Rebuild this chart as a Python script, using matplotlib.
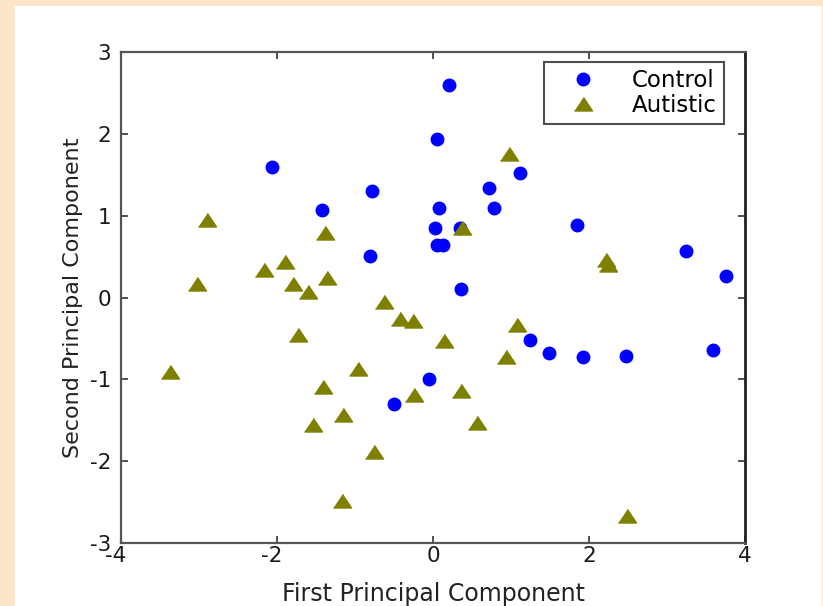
import matplotlib
matplotlib.use("Agg")
import matplotlib.pyplot as plt
from matplotlib.patches import Rectangle
from matplotlib.transforms import ScaledTranslation

plt.rcParams['font.family'] = ['DejaVu Sans']

control_x = [-2.07, 0.20, 0.05, -0.78, -1.42, 0.08, 0.72, 1.12, 0.78, 0.03, 0.05, 0.13,
             0.34, -0.81, 0.36, 1.85, 3.24, 3.76, 1.24, 1.49, 1.92, 2.47, 3.59, -0.05, -0.50]
control_y = [1.60, 2.60, 1.94, 1.30, 1.07, 1.09, 1.34, 1.52, 1.09, 0.85, 0.64, 0.64,
             0.85, 0.51, 0.10, 0.88, 0.57, 0.26, -0.52, -0.68, -0.73, -0.72, -0.64, -0.99, -1.30]

autistic_x = [-2.90, -3.03, -3.37, -2.17, -1.90, -1.80, -1.60, -1.73, -1.39, -1.36, -0.63, -0.42,
              -0.26, -0.96, -1.41, -1.54, -1.15, -0.76, -1.17, -0.25, 0.14, 0.37, 0.97, 1.08,
              0.93, 0.36, 0.57, 2.22, 2.24, 2.49]
autistic_y = [0.95, 0.17, -0.91, 0.33, 0.43, 0.17, 0.07, -0.46, 0.79, 0.24, -0.05, -0.26,
              -0.29, -0.87, -1.09, -1.56, -1.44, -1.89, -2.49, -1.19, -0.53, 0.85, 1.75, -0.33,
              -0.73, -1.14, -1.53, 0.46, 0.40, -2.67]

xticks = [-4, -2, 0, 2, 4]
yticks = [-3, -2, -1, 0, 1, 2, 3]

fig = plt.figure(figsize=(8.23, 6.06), dpi=100)
fig.patch.set_facecolor('#FDE5C8')
fig.add_artist(Rectangle((15/823, 0), (822-15)/823, (606-6)/606,
                         transform=fig.transFigure, facecolor='white',
                         edgecolor='none', zorder=-10))

ax = fig.add_axes([121/823, (606-543)/606, (745-121)/823, (543-52)/606])
ax.set_facecolor('white')

tri = [(-1, -0.72), (1, -0.72), (0, 0.78)]
ax.plot(control_x, control_y, linestyle='none', marker='o', markersize=9,
        color='#0000FF', markeredgecolor='#0000FF', label='Control')
ax.plot(autistic_x, autistic_y, linestyle='none', marker=tri, markersize=13,
        color='#808000', markeredgecolor='#808000', label='Autistic')

ax.set_xlim(-4, 4)
ax.set_ylim(-3, 3)
ax.set_xticks(xticks)
ax.set_yticks(yticks)
ax.set_xticklabels([str(v) for v in xticks])
ax.set_yticklabels([str(v) for v in yticks])
ax.tick_params(direction='in', length=5, width=1.2, top=True, right=True,
               labelsize=15.5, colors='#333333', labelcolor='#1a1a1a')
ax.tick_params(axis='x', pad=2)
ax.tick_params(axis='y', pad=7)
# centre the digit (not the minus sign) under negative x ticks
for lab, v in zip(ax.get_xticklabels(), xticks):
    if v < 0:
        lab.set_transform(lab.get_transform() + ScaledTranslation(-4/72, 0, fig.dpi_scale_trans))

for s in ax.spines.values():
    s.set_color('#555555')
    s.set_linewidth(1.6)
ax.spines['right'].set_color('#222222')
ax.spines['right'].set_linewidth(2.0)

ax.set_xlabel('First Principal Component', fontsize=17, color='#222222', labelpad=12)
ax.set_ylabel('Second Principal Component', fontsize=16, color='#222222', labelpad=5)

leg = ax.legend(loc='upper left', bbox_to_anchor=((544-121)/624, 1 - (62-52)/491),
                borderaxespad=0, fontsize=16.5, frameon=True, fancybox=False,
                edgecolor='#222222', handletextpad=0.75,
                borderpad=0.3, labelspacing=0.1, handlelength=2.8)
leg.get_frame().set_linewidth(1.5)

fig.savefig('out.png', dpi=100, facecolor=fig.get_facecolor())
